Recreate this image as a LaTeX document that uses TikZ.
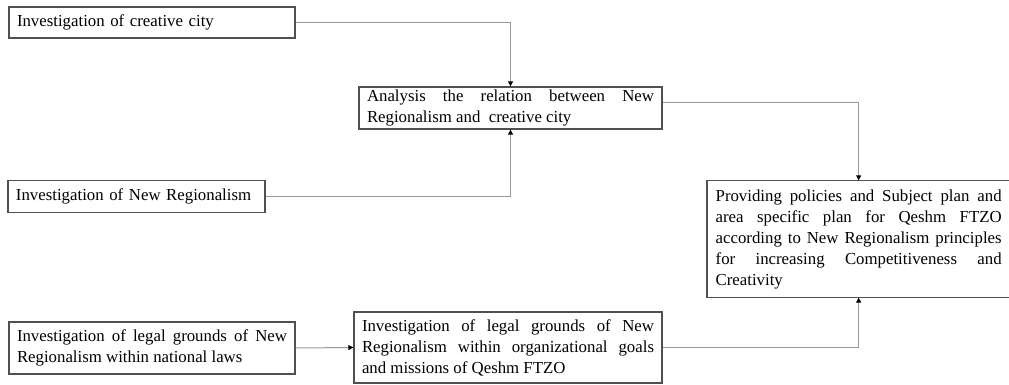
\documentclass[tikz,border=0pt]{standalone}
\usepackage{fontspec}
\setmainfont{Liberation Serif}
\usetikzlibrary{arrows.meta}
\definecolor{boxline}{HTML}{505050}
\definecolor{conn}{HTML}{9A9A9A}
\tikzset{
  box/.style={draw=boxline, line width=1.3pt, inner xsep=8pt, inner ysep=0pt,
    font=\fontsize{16.8}{21}\selectfont, align=justify},
  conn/.style={draw=conn, line width=1pt,
    -{Triangle[length=5pt,width=5pt,color=black]}}
}
\begin{document}
\begin{tikzpicture}[x=1pt,y=-1pt]
\useasboundingbox (0,0) rectangle (1009,385);
\node[box, text width=270pt, minimum height=31pt, align=left] (A) at (152,22.5) {Investigation of creative city};
\node[box, text width=287pt, minimum height=42pt] (B) at (510.5,108) {Analysis the relation between New\linebreak Regionalism and\ \ creative city};
\node[box, text width=241pt, minimum height=32pt, align=left] (C) at (136.5,196.5) {Investigation of New Regionalism};
\node[box, text width=270pt, minimum height=52pt] (D) at (152,348) {Investigation of legal grounds of New\linebreak Regionalism within national laws};
\node[box, text width=292pt, minimum height=71pt] (E) at (508,347.5) {Investigation of legal grounds of New\linebreak Regionalism within organizational goals\linebreak and missions of Qeshm FTZO};
\node[box, draw=none, text width=286pt, minimum height=116pt, anchor=west] (F) at (707,239) {Providing policies and Subject plan and\linebreak area specific plan for Qeshm FTZO\linebreak according to New Regionalism principles\linebreak for increasing Competitiveness and\linebreak Creativity};
\draw[draw=boxline, line width=1.3pt] (F.north west) rectangle ([xshift=12pt]F.south east);
\draw[conn] (A.east) -| (B.north);
\draw[conn] (C.east) -| (B.south);
\draw[conn] ([yshift=5pt]B.east) -| (F.north);
\draw[conn] (E.east) -| (F.south);
\draw[conn] (D.east) -- (E.west);
\end{tikzpicture}
\end{document}
